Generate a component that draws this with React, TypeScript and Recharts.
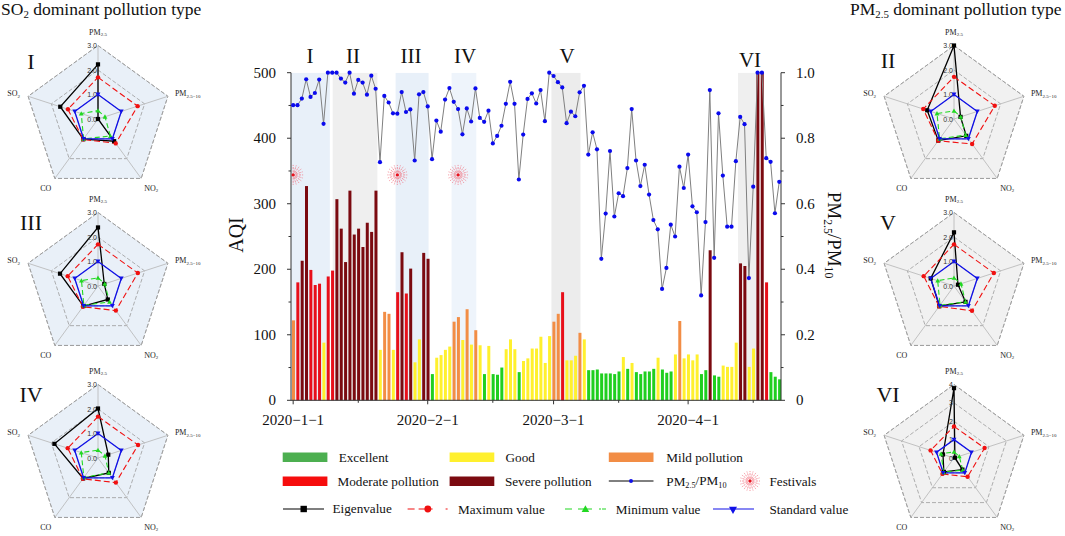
import {
  Bar, Cell, ComposedChart, Line, PolarAngleAxis, PolarGrid, PolarRadiusAxis,
  Radar, RadarChart, ReferenceArea, ReferenceDot, XAxis, YAxis,
} from 'recharts'

const SERIF = '"Liberation Serif", "Times New Roman", serif'

// daily AQI, 2020-1-1 onwards
const aqiValues = [
  122, 180, 213, 327, 199, 176, 178, 88, 189, 198, 307, 262, 211, 320, 253, 262, 234, 271, 257, 320,
  77, 135, 132, 77, 165, 226, 163, 201, 58, 93, 225, 216, 40, 65, 69, 77, 82, 120, 127, 92,
  139, 85, 107, 84, 40, 83, 40, 39, 50, 78, 93, 78, 43, 60, 64, 79, 79, 97, 57, 98,
  120, 132, 165, 61, 61, 68, 103, 93, 46, 46, 47, 41, 41, 41, 40, 44, 66, 48, 57, 43,
  40, 44, 44, 48, 65, 47, 42, 44, 70, 121, 64, 70, 61, 70, 40, 46, 229, 38, 36, 53,
  51, 51, 88, 209, 205, 51, 79, 500, 500, 180, 43, 36, 32,
]

// PM2.5/PM10 ratio, same days
const ratioValues = [
  0.901, 0.901, 0.921, 0.98, 0.926, 0.938, 0.979, 0.844, 1, 1, 1, 0.982, 0.97, 1, 0.936, 0.978, 0.97, 0.933, 0.991, 0.951,
  0.727, 0.929, 0.909, 0.876, 0.875, 0.941, 0.88, 0.888, 0.732, 0.934, 0.941, 0.897, 0.736, 0.854, 0.82, 0.918, 0.953, 0.911, 0.889, 0.812,
  0.891, 0.851, 0.952, 0.862, 0.85, 0.884, 0.784, 0.807, 0.838, 0.905, 0.972, 0.905, 0.674, 0.811, 0.92, 0.937, 0.906, 0.947, 0.852, 1,
  0.99, 0.971, 0.955, 0.846, 0.881, 0.867, 0.94, 0.96, 0.75, 0.818, 0.766, 0.432, 0.57, 0.761, 0.561, 0.632, 0.623, 0.709, 0.889, 0.732,
  0.654, 0.719, 0.628, 0.55, 0.522, 0.34, 0.404, 0.536, 0.5, 0.713, 0.648, 0.75, 0.592, 0.574, 0.32, 0.544, 0.947, 0.435, 0.876, 0.686,
  0.53, 0.53, 0.73, 0.865, 0.843, 0.373, 0.652, 1, 1, 0.739, 0.728, 0.571, 0.667,
]

const dayTicks = [0, 15, 31, 46, 60, 75, 91, 106]
const dateLabels: Record<number, string> = { 0: '2020−1−1', 31: '2020−2−1', 60: '2020−3−1', 91: '2020−4−1' }
const aqiTicks = [0, 50, 100, 150, 200, 250, 300, 350, 400, 450, 500]
const ratioTicks = [0, 0.1, 0.2, 0.3, 0.4, 0.5, 0.6, 0.7, 0.8, 0.9, 1]
const festivalDays = [0, 24, 38]

const periods = [
  { name: 'I', from: -0.5, to: 8.45, fill: '#e8f0f9' },
  { name: 'II', from: 9.1, to: 19.4, fill: '#efefef' },
  { name: 'III', from: 23.6, to: 31.2, fill: '#e8f0f9' },
  { name: 'IV', from: 36.5, to: 42.2, fill: '#eef4fb' },
  { name: 'V', from: 59.5, to: 66.2, fill: '#ececec' },
  { name: 'VI', from: 102.5, to: 107.2, fill: '#efefef' },
]

const pollutants = ['PM2.5', 'PM2.5-10', 'NO2', 'CO', 'SO2']
const standardValue = [1, 1, 1, 1, 1]

const eigenI = [2.23, 0, 1.12, 1.02, 1.62]
const maxI = [1.7, 1.7, 1.23, 1.03, 1.29]
const minI = [0.34, 0.3, 0.86, 1.0, 0.72]
const eigenII = [3.0, 0.28, 0.85, 1.09, 1.15]
const maxII = [1.72, 1.75, 1.26, 1.1, 1.32]
const minII = [0.33, 0.29, 0.81, 1.0, 0.73]
const eigenIII = [2.39, 0.27, 0.68, 1.01, 1.63]
const maxIII = [1.7, 1.71, 1.24, 1.05, 1.3]
const minIII = [0.33, 0.29, 0.8, 0.98, 0.71]
const eigenIV = [2.02, 0.44, 0.75, 1.03, 1.87]
const maxIV = [1.69, 1.72, 1.24, 1.05, 1.3]
const minIV = [0.32, 0.3, 0.75, 0.98, 0.72]
const eigenV = [2.19, 0.17, 0.8, 1.02, 1.0]
const maxV = [1.7, 1.71, 1.25, 1.03, 1.3]
const minV = [0.33, 0.3, 0.8, 0.97, 0.7]
const eigenVI = [3.8, 0.05, 0.78, 0.94, 0.63]
const maxVI = [1.72, 1.75, 1.26, 1.07, 1.34]
const minVI = [0.33, 0.3, 0.81, 0.96, 0.74]

const COLORS = {
  excellent: '#1fcf1f',
  good: '#fff02e',
  mild: '#f28d45',
  moderate: '#e80f1a',
  severe: '#7b0a10',
}
const LEGEND_GREEN = '#4caf50'

const chartData = aqiValues.map((aqi, i) => ({ day: i, aqi, ratio: ratioValues[i] }))

function aqiColor(aqi: number) {
  if (aqi <= 50) return COLORS.excellent
  if (aqi <= 100) return COLORS.good
  if (aqi <= 150) return COLORS.mild
  if (aqi <= 200) return COLORS.moderate
  return COLORS.severe
}

function AqiTick({ x, y, payload }: any) {
  const major = payload.value % 100 === 0
  return (
    <g>
      <line x1={x} x2={x - (major ? 4 : 2.5)} y1={y} y2={y} stroke="#333" />
      {major && (
        <text x={x - 15} y={y + 5} textAnchor="end" fontFamily={SERIF} fontSize={15} fill="#111">
          {payload.value}
        </text>
      )}
    </g>
  )
}

function RatioTick({ x, y, payload }: any) {
  const major = Math.round(payload.value * 10) % 2 === 0
  return (
    <g>
      <line x1={x} x2={x + (major ? 4 : 2.5)} y1={y} y2={y} stroke="#333" />
      {major && (
        <text x={x + 15} y={y + 5} textAnchor="start" fontFamily={SERIF} fontSize={15} fill="#111">
          {payload.value === 0 ? '0' : payload.value.toFixed(1)}
        </text>
      )}
    </g>
  )
}

function DateTick({ x, y, payload }: any) {
  const label = dateLabels[payload.value]
  return (
    <g>
      <line x1={x} x2={x} y1={y} y2={y + (label ? 4 : 2.5)} stroke="#333" />
      {label && (
        <text x={x} y={y + 25} textAnchor="middle" fontFamily={SERIF} fontSize={15} fill="#111">
          {label}
        </text>
      )}
    </g>
  )
}

function FestivalMark({ cx, cy, r = 10, minX }: any) {
  const spokes = Array.from({ length: 20 }, (_, i) => (i * Math.PI) / 10)
  const left = minX ?? -1e4
  return (
    <g>
      {spokes.map((a) => {
        const x2 = cx + r * Math.cos(a)
        // burst on the first day is cut by the axis
        if (x2 < left) return null
        return (
          <line
            key={a}
            x1={cx + 2.5 * Math.cos(a)}
            y1={cy + 2.5 * Math.sin(a)}
            x2={x2}
            y2={cy + r * Math.sin(a)}
            stroke="#f06a78"
            strokeWidth={0.7}
            strokeDasharray="2.2 1"
          />
        )
      })}
      <circle cx={cx} cy={cy} r={1.7} fill="#e8101c" />
    </g>
  )
}

function SquareMark({ cx, cy, size = 3 }: any) {
  return <rect x={cx - size} y={cy - size} width={size * 2} height={size * 2} fill="#000" />
}
function CircleMark({ cx, cy, size = 3.2 }: any) {
  return <circle cx={cx} cy={cy} r={size} fill="#f01010" />
}
function UpMark({ cx, cy, size = 3.4 }: any) {
  return <path d={`M${cx} ${cy - size}L${cx + size} ${cy + size * 0.8}L${cx - size} ${cy + size * 0.8}Z`} fill="#22d822" />
}
function DownMark({ cx, cy, size = 3.4 }: any) {
  return <path d={`M${cx} ${cy + size}L${cx + size} ${cy - size * 0.8}L${cx - size} ${cy - size * 0.8}Z`} fill="#1010e8" />
}

function Sub({ children }: any) {
  return (
    <tspan dy="0.3em" fontSize="0.62em">
      {children}
    </tspan>
  )
}

function AngleTick({ x, y, payload }: any) {
  const name = payload.value
  const common = { fontFamily: SERIF, fontSize: 8, fill: '#222' }
  if (name === 'PM2.5') {
    return <text x={x} y={y - 2.5} textAnchor="middle" {...common}>PM<Sub>2.5</Sub></text>
  }
  if (name === 'PM2.5-10') {
    return <text x={x - 0.6} y={y + 2.5} textAnchor="start" {...common}>PM<Sub>2.5−10</Sub></text>
  }
  if (name === 'NO2') {
    return <text x={x + 5.3} y={y + 6} textAnchor="middle" {...common}>NO<Sub>2</Sub></text>
  }
  if (name === 'CO') {
    return <text x={x - 4.3} y={y + 6} textAnchor="middle" {...common}>CO</text>
  }
  return <text x={x - 0.4} y={y + 2.5} textAnchor="end" {...common}>SO<Sub>2</Sub></text>
}

function PollutionRadar({ cx, cy, eigen, maxValue, minValue, top, count, decimals, fill }: any) {
  const data = pollutants.map((name, i) => ({
    name,
    eigen: eigen[i],
    max: maxValue[i],
    min: minValue[i],
    standard: standardValue[i],
  }))
  const RadiusTick = ({ x, y, payload }: any) => (
    <text x={x - 1} y={y + 2.5} textAnchor="end" fontFamily="Arial, Liberation Sans, sans-serif" fontSize={7} fill="#333">
      {payload.value.toFixed(decimals)}
    </text>
  )
  return (
    <div style={{ position: 'absolute', left: cx - 112, top: cy - 100, width: 224, height: 200 }}>
      <RadarChart width={224} height={200} cx={112} cy={100} outerRadius={73.5} data={data} margin={{ top: 0, right: 0, bottom: 0, left: 0 }}>
        <PolarGrid gridType="polygon" fill={fill} stroke="#9c9c9c" strokeDasharray="4 2" strokeWidth={0.8} radialLines={false} />
        <PolarGrid polarRadius={[]} stroke="#b5b5b5" strokeWidth={0.8} />
        <PolarAngleAxis dataKey="name" tick={<AngleTick />} tickLine={false} axisLine={false} />
        <PolarRadiusAxis angle={90} domain={[0, top]} tickCount={count} tick={<RadiusTick />} axisLine={false} tickLine={false} />
        <Radar dataKey="eigen" stroke="#000" strokeWidth={1.3} fill="none" dot={<SquareMark size={2.1} />} isAnimationActive={false} />
        <Radar dataKey="max" stroke="#f01010" strokeWidth={1.1} strokeDasharray="6 3" fill="none" dot={<CircleMark size={2.2} />} isAnimationActive={false} />
        <Radar dataKey="min" stroke="#22d822" strokeWidth={1.1} strokeDasharray="5 3" fill="none" dot={<UpMark size={2.4} />} isAnimationActive={false} />
        <Radar dataKey="standard" stroke="#1010e8" strokeWidth={1.3} fill="none" dot={<DownMark size={2.4} />} isAnimationActive={false} />
      </RadarChart>
    </div>
  )
}

function LegendText({ x, y, children, size = 13.2 }: any) {
  return (
    <text x={x} y={y + 4.5} fontFamily={SERIF} fontSize={size} fill="#111">
      {children}
    </text>
  )
}

function Swatch({ x, y, fill }: any) {
  return <rect x={x} y={y - 4.5} width={44.7} height={9.5} fill={fill} />
}

function Annotations() {
  const romanSide = [
    ['I', 31, 69], ['III', 31, 230], ['IV', 31, 402], ['II', 888, 68], ['V', 888, 230], ['VI', 888, 402],
  ] as const
  const romanChart = [['I', 310], ['II', 353], ['III', 411], ['IV', 465], ['V', 567]] as const
  return (
    <svg width={1065} height={536} style={{ position: 'absolute', left: 0, top: 0, pointerEvents: 'none' }}>
      <text x={1} y={15} fontFamily={SERIF} fontSize={17.5} fill="#111">SO<Sub>2</Sub><tspan dy="-0.19em"> dominant pollution type</tspan></text>
      <text x={850} y={15} fontFamily={SERIF} fontSize={17.5} fill="#111">PM<Sub>2.5</Sub><tspan dy="-0.19em"> dominant pollution type</tspan></text>

      {romanSide.map(([t, x, y]) => (
        <text key={`${t}-side`} x={x} y={y} textAnchor="middle" fontFamily={SERIF} fontSize={22} fill="#111">{t}</text>
      ))}
      {romanChart.map(([t, x]) => (
        <text key={t} x={x} y={63} textAnchor="middle" fontFamily={SERIF} fontSize={21} fill="#111">{t}</text>
      ))}
      <text x={750} y={67} textAnchor="middle" fontFamily={SERIF} fontSize={21} fill="#111">VI</text>

      <text transform="translate(243 235) rotate(-90)" textAnchor="middle" fontFamily={SERIF} fontSize={20} fill="#111">AQI</text>
      <text transform="translate(828 235) rotate(90)" textAnchor="middle" fontFamily={SERIF} fontSize={19} fill="#111">
        PM<Sub>2.5</Sub><tspan dy="-0.19em">/PM</tspan><Sub>10</Sub>
      </text>

      <Swatch x={282.7} y={457} fill={LEGEND_GREEN} />
      <LegendText x={338.7} y={457}>Excellent</LegendText>
      <Swatch x={449.6} y={457} fill={COLORS.good} />
      <LegendText x={505.6} y={457}>Good</LegendText>
      <Swatch x={608.8} y={457} fill={COLORS.mild} />
      <LegendText x={666.3} y={457}>Mild pollution</LegendText>

      <Swatch x={282.7} y={481} fill="#f60d0d" />
      <LegendText x={337.5} y={481}>Moderate pollution</LegendText>
      <Swatch x={449.6} y={481} fill={COLORS.severe} />
      <LegendText x={504.9} y={481}>Severe pollution</LegendText>
      <line x1={608.8} x2={653.5} y1={481} y2={481} stroke="#000" />
      <circle cx={631} cy={481} r={2} fill="#1010e8" />
      <LegendText x={666.3} y={481}>PM<Sub>2.5</Sub><tspan dy="-0.19em">/PM</tspan><Sub>10</Sub></LegendText>
      <FestivalMark cx={750} cy={481} />
      <LegendText x={769.5} y={481}>Festivals</LegendText>

      <line x1={283} x2={324} y1={509} y2={509} stroke="#000" strokeWidth={1.2} />
      <SquareMark cx={303.7} cy={509} size={3.2} />
      <LegendText x={332.5} y={508}>Eigenvalue</LegendText>
      <line x1={407.6} x2={448.4} y1={509} y2={509} stroke="#f01010" strokeWidth={1.2} strokeDasharray="7 4 14 13 2 1" />
      <CircleMark cx={427.8} cy={509} size={3.4} />
      <LegendText x={458} y={509}>Maximum value</LegendText>
      <line x1={565} x2={606} y1={509} y2={509} stroke="#22d822" strokeWidth={1.2} strokeDasharray="7 6 14 7 2 1" />
      <UpMark cx={585.4} cy={509} size={3.8} />
      <LegendText x={615.8} y={509}>Minimum value</LegendText>
      <line x1={713} x2={754} y1={509} y2={509} stroke="#1010e8" strokeWidth={1.2} />
      <DownMark cx={733} cy={510} size={4} />
      <LegendText x={769.5} y={509}>Standard value</LegendText>
    </svg>
  )
}

export default function App() {
  return (
    <div style={{ position: 'absolute', left: 0, top: 0, width: 1065, height: 536, background: '#fff', overflow: 'hidden' }}>
      <div style={{ position: 'absolute', left: 230.7, top: 50 }}>
        <ComposedChart width={610} height={390} data={chartData} margin={{ top: 22.7, right: 0, bottom: 0, left: 0 }}>
          <XAxis
            xAxisId="days"
            dataKey="day"
            type="number"
            domain={[-0.5, 112.4]}
            ticks={dayTicks}
            interval={0}
            height={39.7}
            stroke="#333"
            tickLine={false}
            tickSize={0}
            tickMargin={0}
            tick={<DateTick />}
          />
          <YAxis yAxisId="aqi" domain={[0, 500]} ticks={aqiTicks} interval={0} width={60} stroke="#333" tickLine={false} tickSize={0} tickMargin={0} tick={<AqiTick />} />
          <YAxis yAxisId="ratio" orientation="right" domain={[0, 1]} ticks={ratioTicks} interval={0} width={60} stroke="#333" tickLine={false} tickSize={0} tickMargin={0} tick={<RatioTick />} />

          {periods.map((p) => (
            <ReferenceArea key={p.name} xAxisId="days" yAxisId="aqi" x1={p.from} x2={p.to} y1={0} y2={500} fill={p.fill} fillOpacity={1} stroke="none" ifOverflow="hidden" />
          ))}

          <Bar xAxisId="days" yAxisId="aqi" dataKey="aqi" barSize={3} isAnimationActive={false}>
            {chartData.map((d) => (
              <Cell key={d.day} fill={aqiColor(d.aqi)} />
            ))}
          </Bar>
          <Line
            xAxisId="days"
            yAxisId="ratio"
            dataKey="ratio"
            stroke="#808080"
            strokeWidth={1}
            dot={{ r: 2.1, fill: '#0a0aee', stroke: 'none' }}
            activeDot={false}
            isAnimationActive={false}
          />
          {festivalDays.map((d) => (
            <ReferenceDot key={d} xAxisId="days" yAxisId="aqi" x={d} y={344} r={10} ifOverflow="hidden" shape={<FestivalMark minX={60} />} />
          ))}
        </ComposedChart>
      </div>

      <PollutionRadar cx={97.7} cy={119.3} eigen={eigenI} maxValue={maxI} minValue={minI} top={2.5} count={6} decimals={1} fill="#e9f0f8" />
      <PollutionRadar cx={97.7} cy={286} eigen={eigenIII} maxValue={maxIII} minValue={minIII} top={2.5} count={6} decimals={1} fill="#e9f0f8" />
      <PollutionRadar cx={97.7} cy={458} eigen={eigenIV} maxValue={maxIV} minValue={minIV} top={2.5} count={6} decimals={1} fill="#e9f0f8" />
      <PollutionRadar cx={953.7} cy={118.7} eigen={eigenII} maxValue={maxII} minValue={minII} top={3} count={7} decimals={1} fill="#f1f1f1" />
      <PollutionRadar cx={953.7} cy={286} eigen={eigenV} maxValue={maxV} minValue={minV} top={2.5} count={6} decimals={1} fill="#f1f1f1" />
      <PollutionRadar cx={953.7} cy={458.3} eigen={eigenVI} maxValue={maxVI} minValue={minVI} top={4} count={5} decimals={0} fill="#f1f1f1" />

      <Annotations />
    </div>
  )
}
